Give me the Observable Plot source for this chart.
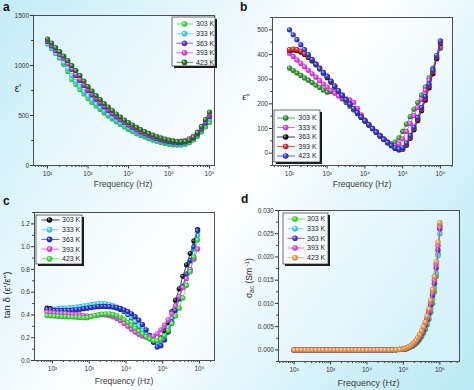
<!DOCTYPE html>
<html><head><meta charset="utf-8">
<script src="https://cdn.jsdelivr.net/npm/d3@7"></script>
<script src="https://cdn.jsdelivr.net/npm/@observablehq/plot@0.6"></script>
<style>
html,body{margin:0;padding:0}
body{width:474px;height:390px;overflow:hidden;position:relative;
background:linear-gradient(125deg,#c2ecf7 0%,#dff5fb 22%,#f8fdff 42%,#ffffff 50%,#e8f8fc 65%,#c9eef8 85%,#bce9f5 100%);
font-family:"Liberation Sans",Arial,sans-serif}
.panel{position:absolute;width:237px;height:195px}
.panel svg{overflow:visible;display:block}
</style></head><body>
<div class="panel" id="pa" style="left:0;top:0"></div>
<div class="panel" id="pb" style="left:237px;top:0"></div>
<div class="panel" id="pc" style="left:0;top:195px"></div>
<div class="panel" id="pd" style="left:237px;top:195px"></div>
<script>
// ---------- data ----------
const temps = ["303 K", "333 K", "363 K", "393 K", "423 K"];

const freqAB = [100,126,158,200,251,316,398,501,631,794,1000,1259,1585,1995,2512,3162,3981,5012,6310,7943,10000,12589,15849,19953,25119,31623,39811,50119,63096,79433,100000,125893,158489,199526,251189,316228,398107,501187,630957,794328,1000000];
const freqC = [71,89,112,141,178,224,282,355,447,562,708,891,1122,1413,1778,2239,2818,3548,4467,5623,7079,8913,11220,14125,17783,22387,28184,35481,44668,56234,70795,89125,112202,141254,177828,223872,281838,354813,446684,562341,707946,891251];
const freqD = [100,126,158,200,251,316,398,501,631,794,1000,1259,1585,1995,2512,3162,3981,5012,6310,7943,10000,12589,15849,19953,25119,31623,39811,50119,63096,79433,100000,112202,125893,141254,158489,177828,199526,223872,251189,281838,316228,354813,398107,446684,501187,562341,630957,707946,794328,891251,1000000];

// (a) epsilon'
const epsA303 = [1230,1185,1130,1075,1010,940,860,810,760,715,670,630,595,560,525,495,465,438,410,385,360,340,318,300,284,268,254,242,230,220,212,206,204,205,212,228,255,290,335,385,430];
const epsA333 = [1215,1170,1120,1080,1030,970,900,840,790,740,695,655,615,580,545,512,482,453,425,400,376,354,333,314,297,281,267,254,242,232,224,218,215,216,222,238,268,305,350,405,465];
const epsA363 = [1240,1195,1150,1110,1080,1040,960,900,850,800,750,705,662,622,585,550,517,486,457,430,404,380,357,336,317,300,284,270,258,247,238,232,229,230,236,250,275,315,365,425,490];
const epsA393 = [1250,1205,1160,1115,1070,1020,970,915,865,815,765,720,676,636,598,562,528,496,466,438,412,388,366,345,326,309,293,279,267,257,249,244,242,244,252,268,295,335,385,445,515];
const epsA423 = [1265,1225,1180,1140,1095,1050,1000,950,900,845,790,745,700,660,620,585,550,515,485,455,430,405,382,360,340,322,305,290,276,264,254,246,240,238,242,255,285,330,390,460,535];

// (b) epsilon''
const epsB303 = [345,335,325,315,305,296,286,276,266,256,247,250,250,236,220,205,190,175,160,145,130,115,100,86,72,58,46,38,45,62,88,118,148,178,205,235,268,305,345,385,425];
const epsB333 = [405,392,378,364,350,336,322,308,294,280,268,255,243,232,224,220,216,206,182,155,135,118,102,87,72,58,45,34,30,38,58,88,120,152,185,218,255,295,340,385,432];
const epsB363 = [417,418,416,410,400,388,374,358,342,324,306,288,270,252,234,216,198,180,163,146,130,114,99,84,69,55,42,30,19,13,16,32,60,95,132,172,215,265,322,383,445];
const epsB393 = [420,422,420,414,404,392,378,362,346,328,310,291,272,253,235,217,199,181,164,147,131,115,100,85,70,56,43,31,21,15,18,36,64,100,138,178,222,272,330,390,448];
const epsB423 = [500,480,460,440,420,400,380,360,342,326,312,292,272,253,235,217,199,181,164,147,131,115,100,85,70,56,43,32,22,17,22,42,72,106,145,186,230,280,337,396,455];

// (c) tan delta
const tanC303 = [0.46,0.455,0.45,0.45,0.45,0.45,0.45,0.45,0.452,0.455,0.46,0.465,0.47,0.475,0.478,0.48,0.48,0.478,0.472,0.462,0.448,0.43,0.405,0.375,0.34,0.30,0.26,0.225,0.19,0.165,0.165,0.2,0.26,0.33,0.43,0.53,0.63,0.74,0.84,0.94,1.05,1.15];
const tanC333 = [0.44,0.445,0.45,0.455,0.46,0.46,0.465,0.465,0.47,0.475,0.48,0.485,0.49,0.495,0.5,0.5,0.498,0.492,0.483,0.47,0.455,0.435,0.41,0.38,0.345,0.305,0.265,0.225,0.19,0.165,0.155,0.175,0.22,0.29,0.37,0.46,0.56,0.66,0.76,0.87,0.98,1.1];
const tanC363 = [0.45,0.445,0.44,0.44,0.44,0.44,0.44,0.442,0.445,0.45,0.455,0.46,0.465,0.47,0.473,0.475,0.475,0.473,0.47,0.465,0.457,0.445,0.43,0.41,0.385,0.355,0.315,0.27,0.22,0.16,0.118,0.13,0.18,0.25,0.34,0.44,0.54,0.65,0.76,0.88,1.0,1.14];
const tanC393 = [0.425,0.42,0.418,0.415,0.415,0.413,0.41,0.408,0.405,0.4,0.395,0.39,0.39,0.395,0.4,0.402,0.4,0.395,0.385,0.37,0.35,0.325,0.3,0.275,0.25,0.23,0.215,0.205,0.205,0.215,0.235,0.27,0.31,0.36,0.41,0.48,0.56,0.64,0.72,0.8,0.89,0.98];
const tanC423 = [0.395,0.392,0.39,0.388,0.386,0.385,0.384,0.382,0.38,0.378,0.376,0.376,0.385,0.395,0.402,0.407,0.41,0.41,0.405,0.395,0.38,0.36,0.335,0.31,0.285,0.26,0.235,0.21,0.19,0.175,0.175,0.19,0.22,0.265,0.325,0.39,0.46,0.55,0.66,0.78,0.91,1.06];

// (d) sigma_ac
const sigD303 = [0,0,0,0,0,0,0,0,0,0, 0,0,0,0,0,0,0,0,0,0, 0,0,0,0,0,0,0,0, 0.00004,0.00008,0.00015,0.0002,0.0003,0.0005,0.0006,0.0008,0.0011,0.0014,0.0018,0.0023,0.0029,0.0036,0.0044,0.0054,0.0066,0.0081,0.01,0.0125,0.0158,0.0207,0.0268];
const sigD333 = [0,0,0,0,0,0,0,0,0,0, 0,0,0,0,0,0,0,0,0,0, 0,0,0,0,0,0,0,0, 0.00004,0.00008,0.00015,0.0002,0.0003,0.0005,0.0007,0.0009,0.0012,0.0016,0.002,0.0025,0.0032,0.004,0.0049,0.006,0.0073,0.0089,0.0109,0.0134,0.0165,0.0203,0.025];
const sigD363 = [0,0,0,0,0,0,0,0,0,0, 0,0,0,0,0,0,0,0,0,0, 0,0,0,0,0,0,0,0, 0.00005,0.0001,0.00018,0.00025,0.0004,0.0006,0.0008,0.001,0.0013,0.0017,0.0022,0.0028,0.0035,0.0043,0.0053,0.0065,0.0079,0.0096,0.0117,0.0143,0.0176,0.0215,0.026];
const sigD393 = [0,0,0,0,0,0,0,0,0,0, 0,0,0,0,0,0,0,0,0,0, 0,0,0,0,0,0,0,0, 0.00005,0.0001,0.0002,0.0003,0.0004,0.0006,0.0008,0.0011,0.0015,0.0019,0.0024,0.003,0.0037,0.0046,0.0056,0.0068,0.0083,0.0101,0.0123,0.015,0.0184,0.0224,0.0264];
const sigD423 = [0,0,0,0,0,0,0,0,0,0, 0,0,0,0,0,0,0,0,0,0, 0,0,0,0,0,0,0,0, 0.00005,0.0001,0.0002,0.0003,0.0005,0.0007,0.0009,0.0012,0.0016,0.0021,0.0027,0.0033,0.0041,0.005,0.006,0.0073,0.0088,0.0107,0.013,0.0158,0.019,0.0232,0.0274];

// ticks
const xMajor = [1e2, 1e3, 1e4, 1e5, 1e6];
const xLabels = ["10²", "10³", "10⁴", "10⁵", "10⁶"];
const yMajorA = [0, 500, 1000, 1500], yLabelsA = ["0", "500", "1000", "1500"];
const yMajorB = [0, 100, 200, 300, 400, 500], yLabelsB = ["0", "100", "200", "300", "400", "500"];
const yMajorC = [0, 0.2, 0.4, 0.6, 0.8, 1.0, 1.2], yLabelsC = ["0.0", "0.2", "0.4", "0.6", "0.8", "1.0", "1.2"];
const yMajorD = [0, 0.005, 0.01, 0.015, 0.02, 0.025, 0.03], yLabelsD = ["0.000", "0.005", "0.010", "0.015", "0.020", "0.025", "0.030"];

// colours
const colA = ["#3fe63f", "#3ddcf2", "#6a2fd6", "#ee3cee", "#237a23"];
const colB = ["#2f9a2f", "#ee3cee", "#111111", "#e82222", "#2b3de0"];
const colC = ["#111111", "#3ddcf2", "#2434cc", "#ee44ee", "#44e044"];
const colD = ["#48dc28", "#44dcf0", "#6a33cc", "#ee44ee", "#f7a04a"];

// ---------- drawing ----------
const FONT = "Liberation Sans, Arial, sans-serif";

function makePanel(cfg) {
  const {id, freq, series, colors} = cfg;
  const yMinor = d3.range(cfg.yDomain[0], cfg.yDomain[1] + 1e-12, cfg.yMinorStep)
    .map(v => +v.toFixed(6)).filter(v => !cfg.yMajor.some(m => Math.abs(m - v) < 1e-9));
  const xMinor = d3.scaleLog().domain(cfg.xDomain).ticks().filter(t => !xMajor.some(m => Math.abs(m - t) < 1e-6));
  const yFmt = new Map(cfg.yMajor.map((v, i) => [v, cfg.yLabels[i]]));
  const xFmt = new Map(xMajor.map((v, i) => [v, xLabels[i]]));
  const marks = [
    Plot.frame({fill: "#ffffff", fillOpacity: 0.3}),
    Plot.axisX({ticks: xMinor, tickSize: 2, tickFormat: () => "", label: null}),
    Plot.axisX({ticks: xMajor, tickSize: 3.5, tickPadding: 2, tickFormat: d => xFmt.get(d), label: null, fontSize: 6.5}),
    Plot.axisY({ticks: yMinor, tickSize: 1.8, tickFormat: () => "", label: null}),
    Plot.axisY({ticks: cfg.yMajor, tickSize: 3, tickPadding: 1.5, tickFormat: d => yFmt.get(d), label: null, fontSize: 6.5})
  ];
  series.forEach((vals, i) => {
    const rows = vals.map((v, j) => ({f: freq[j], v}));
    marks.push(Plot.line(rows, {x: "f", y: "v", stroke: colors[i], strokeWidth: 0.8}));
    marks.push(Plot.dot(rows, {x: "f", y: "v", r: cfg.r, fill: `url(#${id}g${i})`}));
  });
  marks.push(Plot.frame({stroke: "#4d4d4d", strokeWidth: 1}));

  const svg = Plot.plot({
    width: 237, height: 195,
    marginLeft: cfg.m[0], marginRight: cfg.m[1], marginTop: cfg.m[2], marginBottom: cfg.m[3],
    x: {type: "log", domain: cfg.xDomain},
    y: {domain: cfg.yDomain},
    style: {background: "transparent", color: "#333", fontFamily: FONT, overflow: "visible"},
    marks
  });
  const s = d3.select(svg);
  const defs = s.insert("defs", ":first-child");
  colors.forEach((c, i) => {
    const g = defs.append("radialGradient").attr("id", `${id}g${i}`)
      .attr("cx", "50%").attr("cy", "50%").attr("r", "55%").attr("fx", "32%").attr("fy", "30%");
    g.append("stop").attr("offset", "0%").attr("stop-color", d3.interpolateRgb(c, "#ffffff")(0.75));
    g.append("stop").attr("offset", "50%").attr("stop-color", c);
    g.append("stop").attr("offset", "100%").attr("stop-color", d3.color(c).darker(1).formatHex());
  });

  // legend
  const L = cfg.legend;
  const lg = s.append("g").attr("text-anchor", "start");
  lg.append("rect").attr("x", L.x0 + 2).attr("y", L.y0 + 2).attr("width", L.x1 - L.x0).attr("height", L.y1 - L.y0).attr("fill", "#1a1a1a");
  lg.append("rect").attr("x", L.x0).attr("y", L.y0).attr("width", L.x1 - L.x0).attr("height", L.y1 - L.y0)
    .attr("fill", "#f6fcfe").attr("stroke", "#333").attr("stroke-width", 0.7);
  temps.forEach((t, i) => {
    const y = L.ys[i];
    lg.append("line").attr("x1", L.lx0).attr("x2", L.lx1).attr("y1", y).attr("y2", y).attr("stroke", colors[i]).attr("stroke-width", 0.8);
    lg.append("circle").attr("cx", L.mx).attr("cy", y).attr("r", 2.8).attr("fill", `url(#${id}g${i})`);
    lg.append("text").attr("x", L.tx).attr("y", y + 2.4).attr("text-anchor", "start").attr("font-size", 7)
      .attr("fill", "#222").attr("font-family", FONT).text(t);
  });

  // panel letter
  s.append("text").attr("x", cfg.letter[1]).attr("y", cfg.letter[2]).attr("text-anchor", "start").attr("font-size", 12).attr("font-weight", "bold")
    .attr("fill", "#111").attr("font-family", FONT).text(cfg.letter[0]);
  // x label
  s.append("text").attr("x", cfg.xl[0]).attr("y", cfg.xl[1]).attr("text-anchor", "middle").attr("font-size", cfg.xl[2])
    .attr("fill", "#3a3a3a").attr("font-family", FONT).text("Frequency (Hz)");
  // y label
  cfg.ylab(s);
  document.getElementById(id).appendChild(svg);
}

makePanel({
  id: "pa", freq: freqAB, series: [epsA303, epsA333, epsA363, epsA393, epsA423], colors: colA, r: 2.6,
  m: [33, 23, 15, 30], xDomain: [10 ** 1.654, 10 ** 6.123], yDomain: [0, 1500], yMajor: yMajorA, yLabels: yLabelsA, yMinorStep: 250,
  legend: {x0: 172, y0: 17, x1: 215, y1: 66, ys: [24, 33.6, 43.2, 52.8, 62.4], lx0: 176.5, lx1: 193, mx: 184.5, tx: 196},
  letter: ["a", 3, 11], xl: [123, 187, 8.5],
  ylab: s => s.append("text").attr("x", 18).attr("y", 92).attr("text-anchor", "middle").attr("font-size", 10).attr("fill", "#222").attr("font-family", FONT).text("ε'")
});

makePanel({
  id: "pb", freq: freqAB, series: [epsB303, epsB333, epsB363, epsB393, epsB423], colors: colB, r: 2.6,
  m: [35, 22, 17, 30], xDomain: [10 ** 1.55, 10 ** 6.32], yDomain: [-50, 550], yMajor: yMajorB, yLabels: yLabelsB, yMinorStep: 50,
  legend: {x0: 37, y0: 110, x1: 83, y1: 162, ys: [118, 127.5, 137, 146.5, 156], lx0: 40, lx1: 58, mx: 48.7, tx: 61.3},
  letter: ["b", 3, 11], xl: [125, 187, 8.5],
  ylab: s => s.append("text").attr("x", 9).attr("y", 100).attr("text-anchor", "middle").attr("font-size", 9).attr("fill", "#222").attr("font-family", FONT).text("ε''")
});

makePanel({
  id: "pc", freq: freqC, series: [tanC303, tanC333, tanC363, tanC393, tanC423], colors: colC, r: 2.6,
  m: [34, 23, 17, 30], xDomain: [10 ** 1.51, 10 ** 6.41], yDomain: [0, 1.3], yMajor: yMajorC, yLabels: yLabelsC, yMinorStep: 0.1,
  legend: {x0: 36, y0: 20, x1: 82, y1: 69, ys: [25, 34.7, 44.4, 54.1, 63.8], lx0: 41.5, lx1: 59.5, mx: 49.5, tx: 62},
  letter: ["c", 3, 10], xl: [124, 188.5, 8.5],
  ylab: s => s.append("text").attr("transform", "translate(10,100) rotate(-90)").attr("text-anchor", "middle").attr("font-size", 9.5).attr("fill", "#222").attr("font-family", FONT).text("tan δ (ε'/ε'')")
});

makePanel({
  id: "pd", freq: freqD, series: [sigD303, sigD333, sigD363, sigD393, sigD423], colors: colD, r: 2.7,
  m: [41, 15, 15, 29], xDomain: [10 ** 1.57, 10 ** 6.54], yDomain: [-0.0025, 0.030], yMajor: yMajorD, yLabels: yLabelsD, yMinorStep: 0.0025,
  legend: {x0: 46, y0: 18, x1: 91, y1: 69, ys: [24, 33.7, 43.3, 53, 62.7], lx0: 50.5, lx1: 67.5, mx: 58, tx: 70},
  letter: ["d", 4, 8], xl: [131.5, 191, 9],
  ylab: s => {
    const t = s.append("text").attr("transform", "translate(15,83) rotate(-90)").attr("text-anchor", "middle")
      .attr("font-size", 8.5).attr("fill", "#222").attr("font-family", FONT);
    t.append("tspan").text("σ");
    t.append("tspan").attr("dy", 2).attr("font-size", 6.5).text("ac");
    t.append("tspan").attr("dy", -2).text(" (Sm");
    t.append("tspan").attr("dy", -3.5).attr("font-size", 6).text(" -1");
    t.append("tspan").attr("dy", 3.5).text(")");
  }
});
</script>
</body></html>
